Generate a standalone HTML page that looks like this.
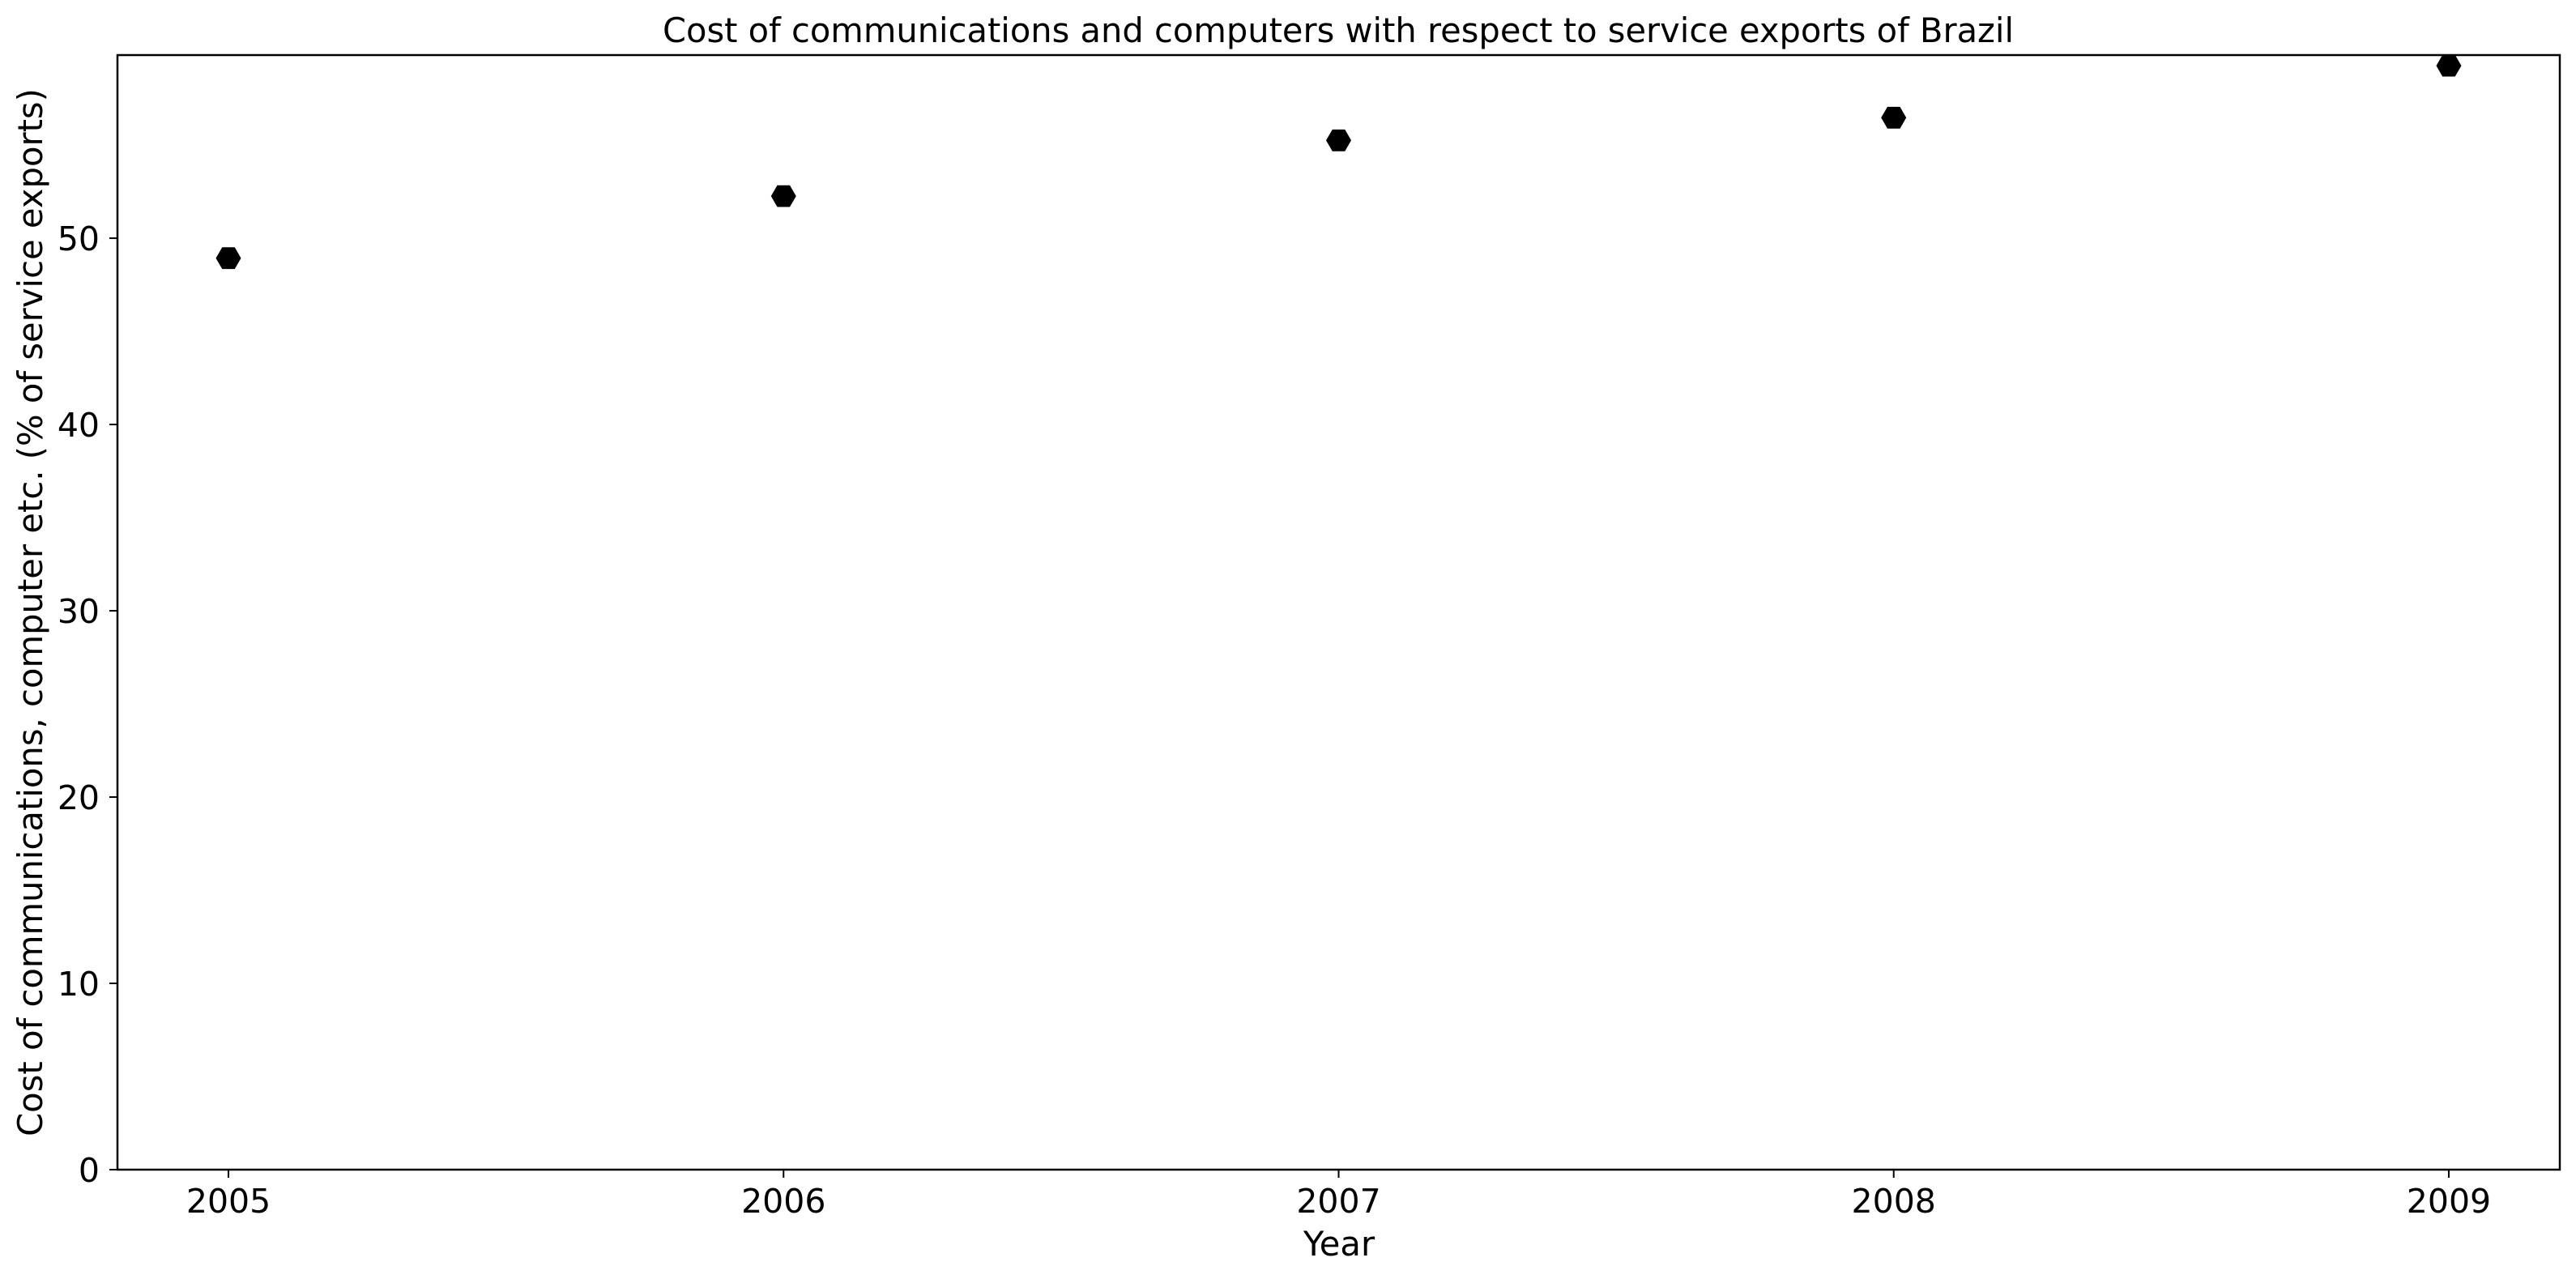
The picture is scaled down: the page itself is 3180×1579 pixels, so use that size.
<!DOCTYPE html>
<html><head><meta charset="utf-8"><style>
html,body{margin:0;padding:0;background:#fff;}
svg{display:block;font-family:"DejaVu Sans","Liberation Sans",sans-serif;}
</style></head><body>
<svg id="chart" width="3180" height="1579" viewBox="0 0 3180 1579" xmlns="http://www.w3.org/2000/svg">
<rect width="3180" height="1579" fill="#fff"/>
<text x="1652" y="52" font-size="41.6" text-anchor="middle">Cost of communications and computers with respect to service exports of Brazil</text>
<g id="yticks"></g>
<g id="xticks"></g>
<g id="points"></g>
<rect x="145" y="68" width="3015" height="1376" fill="none" stroke="#000" stroke-width="2.5"/>
<text x="1653" y="1550" font-size="41.7" text-anchor="middle">Year</text>
<text transform="translate(52,756) rotate(-90)" font-size="41.7" text-anchor="middle">Cost of communications, computer etc. (% of service exports)</text>
</svg>
<script>
const years = [2005, 2006, 2007, 2008, 2009];
const values = [48.93, 52.26, 55.25, 56.47, 59.26];
const yTickValues = [0, 10, 20, 30, 40, 50];
const xTickLabels = ["2005", "2006", "2007", "2008", "2009"];

const NS = "http://www.w3.org/2000/svg";
const L = 145, R = 3160, T = 68, B = 1444;
const xMin = 2004.8, xMax = 2009.2, yMin = 0, yMax = 59.83;
function xs(v){ return L + (v - xMin) / (xMax - xMin) * (R - L); }
function ys(v){ return B - (v - yMin) / (yMax - yMin) * (B - T); }
function mk(tag, attrs){ const e = document.createElementNS(NS, tag); for (const k in attrs) e.setAttribute(k, attrs[k]); return e; }

const yg = document.getElementById('yticks');
yTickValues.forEach(v => {
  const y = ys(v);
  const t = mk('line', {x1: L - 10, x2: L, y1: y, y2: y, stroke: '#000', 'stroke-width': 2});
  
  
  yg.appendChild(t);
  const lb = mk('text', {x: L - 22, y: y + 15, 'font-size': 41, 'text-anchor': 'end'});
  lb.textContent = String(v);
  
  
  yg.appendChild(lb);
});

const xg = document.getElementById('xticks');
years.forEach((yr, i) => {
  const x = xs(yr);
  const t = mk('line', {x1: x, x2: x, y1: B, y2: B + 10, stroke: '#000', 'stroke-width': 2});
  
  
  xg.appendChild(t);
  const lb = mk('text', {x: x, y: 1497, 'font-size': 41, 'text-anchor': 'middle'});
  lb.textContent = xTickLabels[i];
  
  
  xg.appendChild(lb);
});

const pg = document.getElementById('points');
const r = 15.5;
years.forEach((yr, i) => {
  const cx = xs(yr), cy = ys(values[i]);
  const pts = [];
  for (let k = 0; k < 6; k++) {
    const a = Math.PI / 3 * k;
    pts.push((cx + r * Math.cos(a)).toFixed(1) + ',' + (cy + r * Math.sin(a)).toFixed(1));
  }
  const p = mk('polygon', {points: pts.join(' '), fill: '#000'});
  
  
  pg.appendChild(p);
});
</script>
</body></html>
